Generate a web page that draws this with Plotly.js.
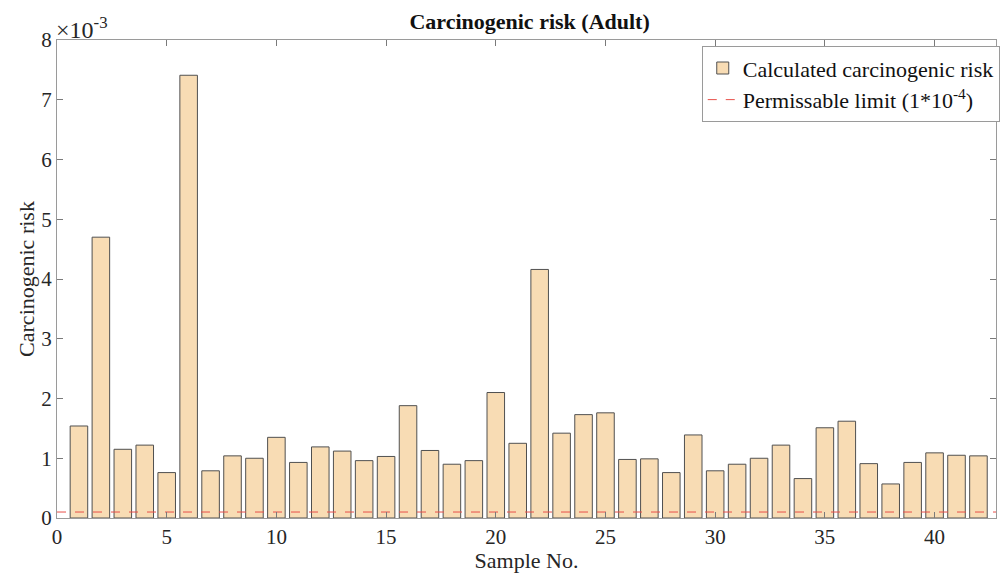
<!DOCTYPE html>
<html><head><meta charset="utf-8">
<script src="https://cdn.plot.ly/plotly-3.0.1.min.js"></script>
<style>html,body{margin:0;padding:0;background:#fff}#chart{width:1003px;height:573px}</style>
</head><body><div id="chart"></div>
<script>
const sampleNo = Array.from({length: 42}, (_, i) => i + 1);
// Carcinogenic risk values, in units of 1e-3
const riskE3 = [1.54, 4.70, 1.15, 1.22, 0.76, 7.41, 0.79, 1.04, 1.00, 1.35,
                0.93, 1.19, 1.12, 0.96, 1.03, 1.88, 1.13, 0.90, 0.96, 2.10,
                1.25, 4.16, 1.42, 1.73, 1.76, 0.98, 0.99, 0.76, 1.39, 0.79,
                0.90, 1.00, 1.22, 0.66, 1.51, 1.62, 0.91, 0.57, 0.93, 1.09,
                1.05, 1.04];
const limitE3 = 0.1; // 1e-4
const xRange = [0, 42.8];
const yRange = [0, 8];
const xTicks = [0, 5, 10, 15, 20, 25, 30, 35, 40];
const yTicks = [0, 1, 2, 3, 4, 5, 6, 7, 8];

const font = '"Liberation Serif", "Times New Roman", serif';
const traces = [
  {type: 'bar', x: sampleNo, y: riskE3, width: 0.8, name: 'Calculated carcinogenic risk',
   marker: {color: '#f8dcb4', line: {color: '#505050', width: 1}}},
  {type: 'scatter', mode: 'lines', x: [xRange[0], xRange[1]], y: [limitE3, limitE3],
   name: 'Permissable limit (1*10<sup>-4</sup>)', line: {color: '#e8504a', dash: 'dash', width: 1}}
];
const axisCommon = {showgrid: false, zeroline: false, showline: true, linecolor: '#9a9a9a', linewidth: 1,
  mirror: 'ticks', ticks: 'inside', ticklen: 6, tickcolor: '#7a7a7a',
  tickfont: {family: font, size: 21, color: '#262626'}};
const layout = {
  width: 1003, height: 573,
  margin: {l: 57, r: 3, t: 40, b: 55},
  paper_bgcolor: '#fff', plot_bgcolor: '#fff',
  font: {family: font, color: '#262626'},
  title: {text: '<b>Carcinogenic risk (Adult)</b>', font: {family: font, size: 22, color: '#111'},
          x: 0.528, xanchor: 'center', y: 0.962, yanchor: 'middle'},
  xaxis: Object.assign({}, axisCommon, {range: xRange, tickvals: xTicks, ticktext: xTicks.map(String),
    title: {text: 'Sample No.', font: {family: font, size: 22}, standoff: 0}}),
  yaxis: Object.assign({}, axisCommon, {range: yRange, tickvals: yTicks, ticktext: yTicks.map(String),
    title: {text: 'Carcinogenic risk', font: {family: font, size: 22}, standoff: 0}}),
  showlegend: true,
  legend: {x: 1.004, y: 0.987, xanchor: 'right', yanchor: 'top', bgcolor: '#fff',
           bordercolor: '#9a9a9a', borderwidth: 1, font: {family: font, size: 22, color: '#111'},
           tracegroupgap: 0, itemwidth: 30},
  annotations: [{xref: 'paper', yref: 'paper', x: -0.003, y: 1, xanchor: 'left', yanchor: 'bottom',
    text: '×10<sup>-3</sup>', showarrow: false, font: {family: font, size: 24, color: '#262626'}, yshift: -5}],
  bargap: 0.2
};
Plotly.newPlot('chart', traces, layout, {displayModeBar: false, staticPlot: true});
</script>
</body></html>
